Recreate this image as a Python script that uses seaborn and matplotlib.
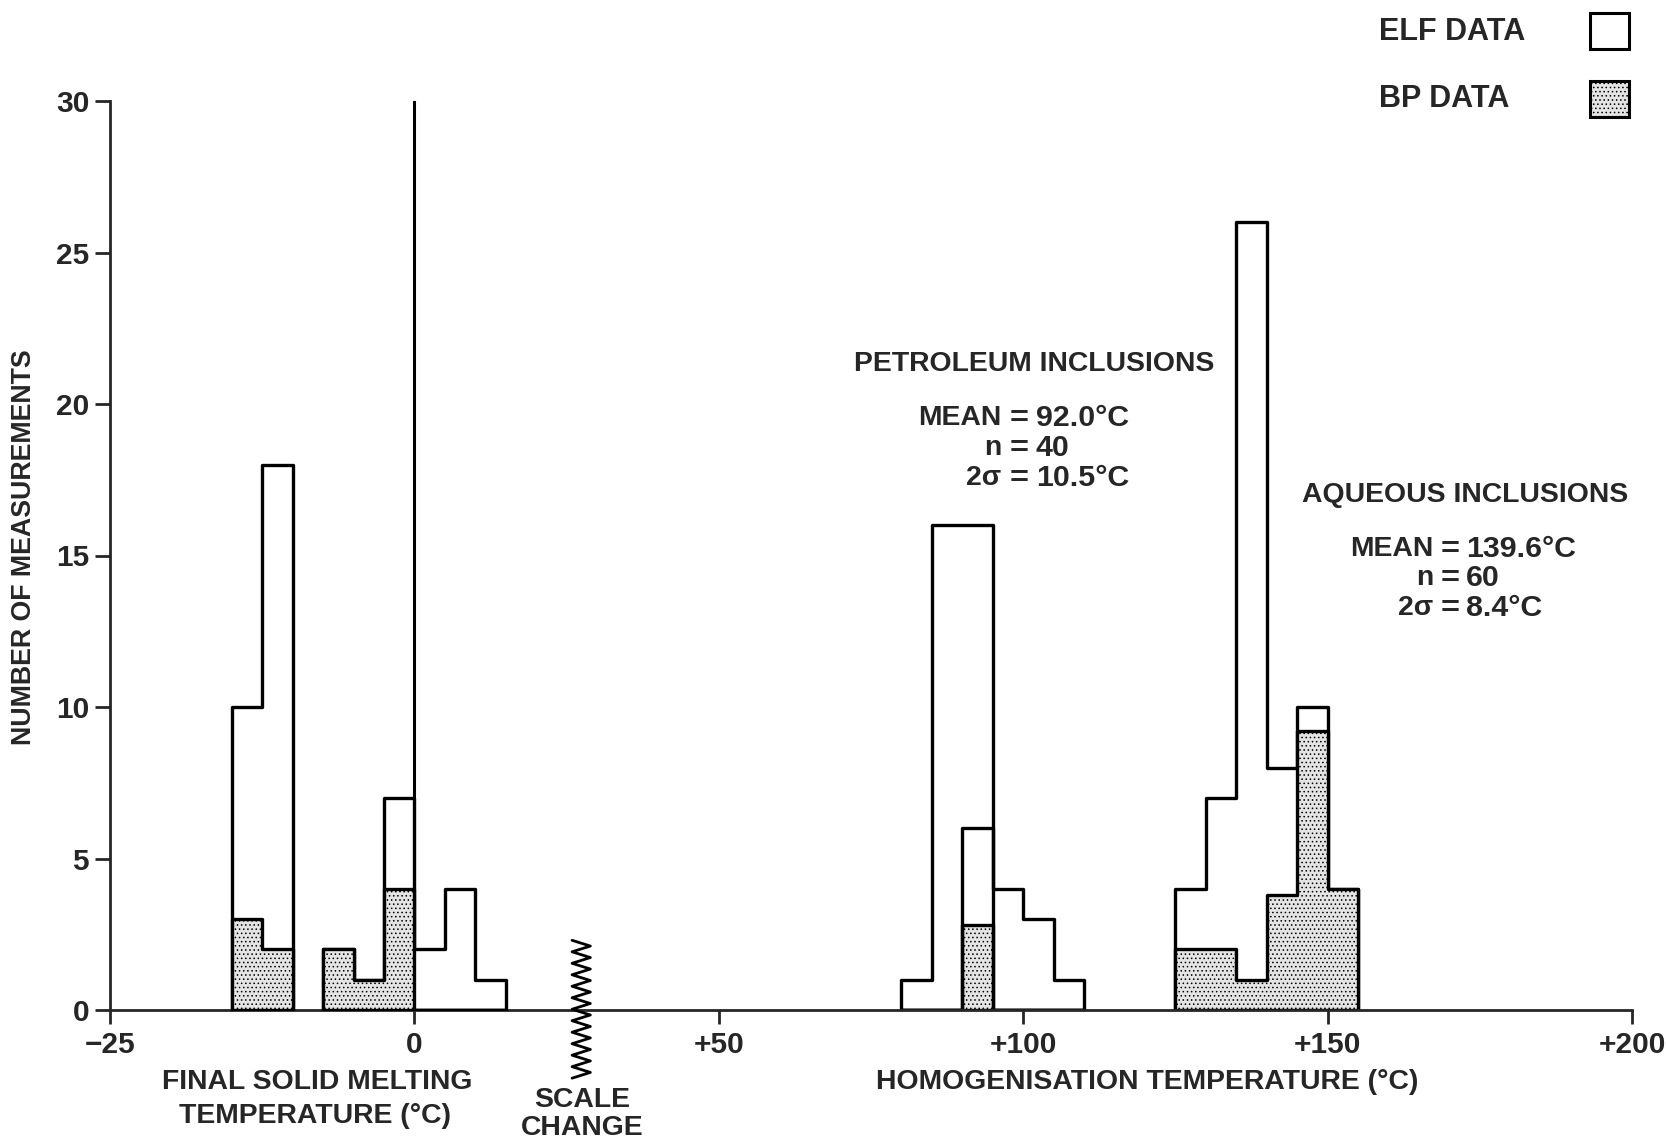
import numpy as np
import matplotlib
matplotlib.use("Agg")
import matplotlib.pyplot as plt
import seaborn as sns
from matplotlib.patches import Rectangle

# ---------------- data ----------------
# Final solid melting temperature (deg C), bin edges and counts
melt_edges_a = [-15, -12.5, -10]
melt_total_a = [10, 18]
melt_bp_a = [3, 2]

melt_edges_b = [-7.5, -5, -2.5, 0, 2.5, 5, 7.5]
melt_total_b = [2, 1, 7, 2, 4, 1]
melt_bp_b = [2, 1, 4, 0, 0, 0]

# Homogenisation temperature, petroleum inclusions
petro_edges = [80, 85, 90, 95, 100, 105, 110]
petro_total = [1, 16, 16, 4, 3, 1]
petro_inner = [0, 0, 6, 0, 0, 0]
petro_bp = [0, 0, 2.8, 0, 0, 0]

# Homogenisation temperature, aqueous inclusions
aq_edges = [125, 130, 135, 140, 145, 150, 155]
aq_total = [4, 7, 26, 8, 10, 4]
aq_bp = [2, 2, 1, 3.8, 9.2, 4]

# axis ticks
y_ticks = [0, 5, 10, 15, 20, 25, 30]
x_tick_pos = [-50, 0, 50, 100, 150, 200]
x_tick_labels = ["\u221225", "0", "+50", "+100", "+150", "+200"]

# ---------------- style ----------------
sns.set_style("ticks")
plt.rcParams["font.family"] = ["Liberation Sans", "DejaVu Sans"]
plt.rcParams["font.weight"] = "bold"
plt.rcParams["hatch.linewidth"] = 0.6

W, H = 1666, 1142
fig = plt.figure(figsize=(W / 100, H / 100), dpi=100)
L, R, T, B = 110, 1632, 101, 1010
ax = fig.add_axes([L / W, 1 - B / H, (R - L) / W, (B - T) / H])
ax2 = ax.twiny()

FS = 20.4
FS_TICK = 21.5
FS_LEG = 22
LW = 2.4
bp_face = "#e4e4e4"


def fx(px):
    return px / W


def fy(py):
    return 1 - py / H


def step_hist(axis, edges, heights, fill=True, **kw):
    e = [float(v) for v in edges]
    centers = [(a + b) / 2 for a, b in zip(e[:-1], e[1:])]
    sns.histplot(x=centers, weights=list(heights), bins=e, element="step",
                 fill=fill, ax=axis, **kw)


outline_kw = dict(color="white", alpha=1, edgecolor="black", linewidth=LW)
bp_kw = dict(color=bp_face, alpha=1, edgecolor="black", linewidth=LW, hatch="....")

# melting temperature histograms (own scale on twin axis)
step_hist(ax2, melt_edges_a, melt_total_a, **outline_kw)
step_hist(ax2, melt_edges_a, melt_bp_a, **bp_kw)
step_hist(ax2, melt_edges_b, melt_total_b, **outline_kw)
step_hist(ax2, melt_edges_b, melt_bp_b, **bp_kw)

# homogenisation temperature histograms
step_hist(ax, petro_edges, petro_total, **outline_kw)
step_hist(ax, petro_edges, petro_inner, fill=False, color="black", linewidth=LW)
step_hist(ax, petro_edges, petro_bp, **bp_kw)
step_hist(ax, aq_edges, aq_total, **outline_kw)
step_hist(ax, aq_edges, aq_bp, **bp_kw)

# axes
ax.set_xlim(-50, 200)
ax.set_ylim(0, 30)
ax2.set_xlim(-25, 100)
ax2.set_ylim(0, 30)
for a in (ax, ax2):
    a.set_xlabel("")
    a.set_ylabel("")
for s in ax2.spines.values():
    s.set_visible(False)
ax2.set_xticks([])
ax2.tick_params(top=False, bottom=False, labeltop=False)

ax.spines["top"].set_visible(False)
ax.spines["right"].set_visible(False)
ax.spines["left"].set_linewidth(2)
ax.spines["bottom"].set_linewidth(2)
ax.set_yticks(y_ticks)
ax.set_yticklabels([str(v) for v in y_ticks])
ax.set_xticks(x_tick_pos)
ax.set_xticklabels(x_tick_labels)
ax.tick_params(axis="y", length=11, width=2, direction="out", pad=4,
               labelsize=FS_TICK)
ax.tick_params(axis="x", length=10, width=2, direction="out", pad=5,
               labelsize=FS_TICK)
for lab in ax.get_xticklabels() + ax.get_yticklabels():
    lab.set_fontweight("bold")

# zero line (top of melting scale)
ax.axvline(0, ymin=0, ymax=1, color="black", linewidth=2.2, zorder=5)

# scale change zig-zag (decoration)
n_zig = 25
zy = np.linspace(-2.25, 2.3, n_zig)
zx = 27.4 + np.where(np.arange(n_zig) % 2 == 0, -1.5, 1.5)
ax.plot(zx, zy, color="black", linewidth=2, clip_on=False, zorder=6)

# y label
fig.text(fx(24), fy(547), "NUMBER OF MEASUREMENTS", rotation=90,
         ha="center", va="center", fontsize=19.3, fontweight="bold")

# bottom labels
fig.text(fx(317), fy(1082), "FINAL SOLID MELTING", ha="center", va="center",
         fontsize=FS, fontweight="bold")
fig.text(fx(315), fy(1116), "TEMPERATURE (\u00b0C)", ha="center", va="center",
         fontsize=FS, fontweight="bold")
fig.text(fx(582), fy(1100), "SCALE", ha="center", va="center",
         fontsize=FS, fontweight="bold")
fig.text(fx(582), fy(1128), "CHANGE", ha="center", va="center",
         fontsize=FS, fontweight="bold")
fig.text(fx(1147), fy(1082), "HOMOGENISATION TEMPERATURE (\u00b0C)",
         ha="center", va="center", fontsize=FS, fontweight="bold")


# annotations: label right-aligned, "=" centred, value left-aligned
def stat_block(title, tx, ty, lab_right, eq_c, val_left, rows):
    fig.text(fx(tx), fy(ty), title, ha="center", va="center",
             fontsize=FS, fontweight="bold")
    for (left, right), py in rows:
        fig.text(fx(lab_right), fy(py), left, ha="right", va="center",
                 fontsize=FS, fontweight="bold")
        fig.text(fx(eq_c), fy(py + 1), "=", ha="center", va="center",
                 fontsize=FS + 3, fontweight="bold")
        fig.text(fx(val_left), fy(py), right, ha="left", va="center",
                 fontsize=FS + 1.5, fontweight="bold")


stat_block("PETROLEUM INCLUSIONS", 1034, 364, 1001, 1019, 1036,
           [(("MEAN", "92.0\u00b0C"), 418), (("n", "40"), 448),
            (("2\u03c3", "10.5\u00b0C"), 478)])
stat_block("AQUEOUS INCLUSIONS", 1465, 495, 1433, 1450, 1466,
           [(("MEAN", "139.6\u00b0C"), 549), (("n", "60"), 578),
            (("2\u03c3", "8.4\u00b0C"), 608)])

# legend
fig.text(fx(1379), fy(32), "ELF DATA", ha="left", va="center",
         fontsize=FS_LEG, fontweight="bold")
fig.text(fx(1379), fy(99), "BP DATA", ha="left", va="center",
         fontsize=FS_LEG, fontweight="bold")
fig.patches.append(Rectangle((fx(1590), fy(49)), fx(39), 36 / H,
                             transform=fig.transFigure, facecolor="white",
                             edgecolor="black", linewidth=2.2))
fig.patches.append(Rectangle((fx(1590), fy(117)), fx(39), 36 / H,
                             transform=fig.transFigure, facecolor=bp_face,
                             edgecolor="black", linewidth=2.2, hatch="...."))

fig.savefig("out.png", dpi=100)
